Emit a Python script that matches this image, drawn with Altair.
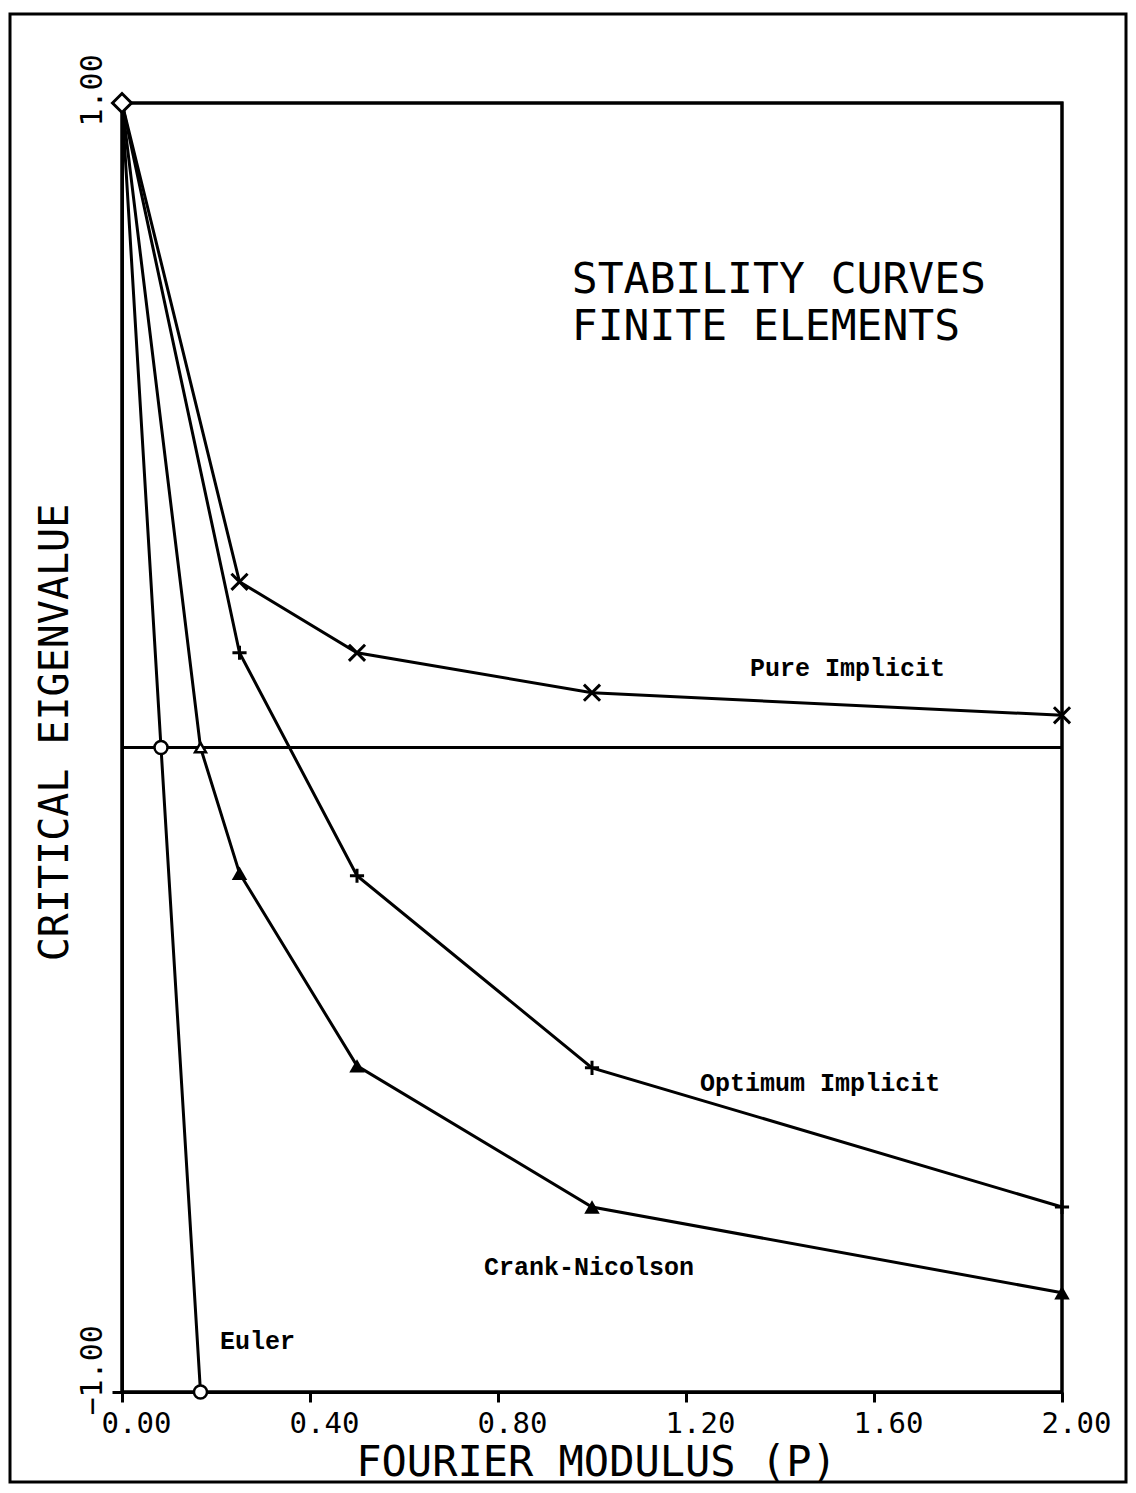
import altair as alt
import pandas as pd

# ---- data ----
p_pure = [0.0, 0.25, 0.50, 1.00, 2.00]
v_pure = [1.0, 0.257, 0.147, 0.085, 0.050]

p_opt = [0.0, 0.25, 0.50, 1.00, 2.00]
v_opt = [1.0, 0.147, -0.199, -0.497, -0.713]

p_cn = [0.0, 0.167, 0.25, 0.50, 1.00, 2.00]
v_cn = [1.0, 0.0, -0.195, -0.494, -0.713, -0.846]

p_euler = [0.0, 0.083, 0.167]
v_euler = [1.0, 0.0, -1.0]

p_zero = [0.0, 2.0]
v_zero = [0.0, 0.0]

x_ticks = [0.0, 0.4, 0.8, 1.2, 1.6, 2.0]
y_ticks = [-1.0, 1.0]

curve_labels = ["Pure Implicit", "Optimum Implicit", "Crank-Nicolson", "Euler"]
curve_label_p = [1.336, 1.230, 0.770, 0.2085]
curve_label_v = [0.123, -0.521, -0.806, -0.921]

title_lines = ["STABILITY CURVES", "FINITE ELEMENTS"]
title_p = [0.957, 0.957]
title_v = [0.705, 0.632]

# ---- tables ----
def table(name, ps, vs):
    return pd.DataFrame({"series": name, "p": ps, "v": vs})

lines_df = pd.concat([
    table("Pure Implicit", p_pure, v_pure),
    table("Optimum Implicit", p_opt, v_opt),
    table("Crank-Nicolson", p_cn, v_cn),
    table("Euler", p_euler, v_euler),
    table("Zero", p_zero, v_zero),
], ignore_index=True)

pure_pts = table("Pure Implicit", p_pure[1:], v_pure[1:])
opt_pts = table("Optimum Implicit", p_opt[1:], v_opt[1:])
cn_pts = table("Crank-Nicolson", p_cn[2:], v_cn[2:])
cn_cross = table("Crank-Nicolson", p_cn[1:2], v_cn[1:2])
euler_pts = table("Euler", p_euler[1:], v_euler[1:])
origin_pt = table("Start", p_euler[:1], v_euler[:1])

labels_df = pd.DataFrame({"label": curve_labels, "p": curve_label_p, "v": curve_label_v})
title_df = pd.DataFrame({"label": title_lines, "p": title_p, "v": title_v})

xscale = alt.Scale(domain=[0, 2], nice=False, zero=False)
yscale = alt.Scale(domain=[-1, 1], nice=False, zero=False)

x_enc = alt.X(
    "p:Q", scale=xscale,
    axis=alt.Axis(
        values=x_ticks, format=".2f", title="FOURIER MODULUS (P)",
        labelFont="DejaVu Sans Mono", labelFontSize=29, labelOffset=14,
        labelPadding=7, tickSize=10, tickWidth=3, domainWidth=3,
        domainColor="black", tickColor="black", labelColor="black",
        titleColor="black",
        titleFont="DejaVu Sans Mono", titleFontSize=42, titleFontWeight="normal",
        titleX=474, titleY=70, titleAlign="center", titleBaseline="middle",
        labelOverlap=False, labelFlush=False, grid=False,
    ),
)
y_enc = alt.Y(
    "v:Q", scale=yscale,
    axis=alt.Axis(
        values=y_ticks, format=".2f", title="CRITICAL EIGENVALUE",
        labelFont="DejaVu Sans Mono", labelFontSize=30, labelAngle=-90,
        labelAlign="left", labelBaseline="alphabetic", labelOffset=23,
        labelPadding=11, tickSize=10, tickWidth=3, domainWidth=3,
        domainColor="black", tickColor="black", labelColor="black",
        titleColor="black",
        titleFont="DejaVu Sans Mono", titleFontSize=40, titleFontWeight="normal",
        titleAngle=-90, titleX=-67, titleY=629, titleAlign="center",
        titleBaseline="middle", labelOverlap=False, labelFlush=False, grid=False,
    ),
)

base_x = alt.X("p:Q", scale=xscale)
base_y = alt.Y("v:Q", scale=yscale)

lines = alt.Chart(lines_df).mark_line(color="black", strokeWidth=3).encode(
    x=x_enc, y=y_enc, detail="series:N"
)

xshape = "M-1,-1L1,1M1,-1L-1,1"
plusshape = "M-1,0L1,0M0,-1L0,1"

pure_mk = alt.Chart(pure_pts).mark_point(
    shape=xshape, size=260, color="black", strokeWidth=3, filled=False, opacity=1
).encode(x=base_x, y=base_y)

opt_mk = alt.Chart(opt_pts).mark_point(
    shape=plusshape, size=200, color="black", strokeWidth=3, filled=False, opacity=1
).encode(x=base_x, y=base_y)

cn_mk = alt.Chart(cn_pts).mark_point(
    shape="triangle-up", size=240, color="black", filled=True, opacity=1
).encode(x=base_x, y=base_y)

cn_cross_mk = alt.Chart(cn_cross).mark_point(
    shape="triangle-up", size=120, color="black", fill="white", filled=False,
    strokeWidth=2.5, opacity=1
).encode(x=base_x, y=base_y)

euler_mk = alt.Chart(euler_pts).mark_point(
    shape="circle", size=170, color="black", fill="white", filled=False,
    strokeWidth=2.5, opacity=1
).encode(x=base_x, y=base_y)

origin_mk = alt.Chart(origin_pt).mark_point(
    shape="diamond", size=360, color="black", fill="white", filled=False,
    strokeWidth=3, opacity=1
).encode(x=base_x, y=base_y)

curve_text = alt.Chart(labels_df).mark_text(
    font="Liberation Mono", fontSize=25, fontWeight="bold", align="left",
    baseline="middle", color="black"
).encode(x=base_x, y=base_y, text="label:N")

title_text = alt.Chart(title_df).mark_text(
    font="DejaVu Sans Mono", fontSize=43, align="left",
    baseline="alphabetic", color="black"
).encode(x=base_x, y=base_y, text="label:N")

frame = alt.Chart(pd.DataFrame({"k": [0]})).mark_rect(
    fillOpacity=0, stroke="black", strokeWidth=3
).encode(
    x=alt.value(-112), x2=alt.value(1004), y=alt.value(-89), y2=alt.value(1379)
)

plot_box = alt.Chart(pd.DataFrame({"k": [0]})).mark_rect(
    fillOpacity=0, stroke="black", strokeWidth=3
).encode(
    x=alt.value(0), x2=alt.value(940), y=alt.value(0), y2=alt.value(1289)
)

chart = alt.layer(
    frame, plot_box, lines, pure_mk, opt_mk, cn_mk, cn_cross_mk, euler_mk,
    origin_mk, curve_text, title_text
).properties(
    width=940, height=1289,
    background="white",
    autosize=alt.AutoSizeParams(type="none"),
    padding={"left": 114, "top": 95, "right": 66, "bottom": 92},
).configure_view(
    stroke="black", strokeWidth=3
).configure_axis(
    domainColor="black", tickColor="black", labelColor="black", titleColor="black"
)

chart.save("out.html", embed_options={"renderer": "svg", "actions": False})
